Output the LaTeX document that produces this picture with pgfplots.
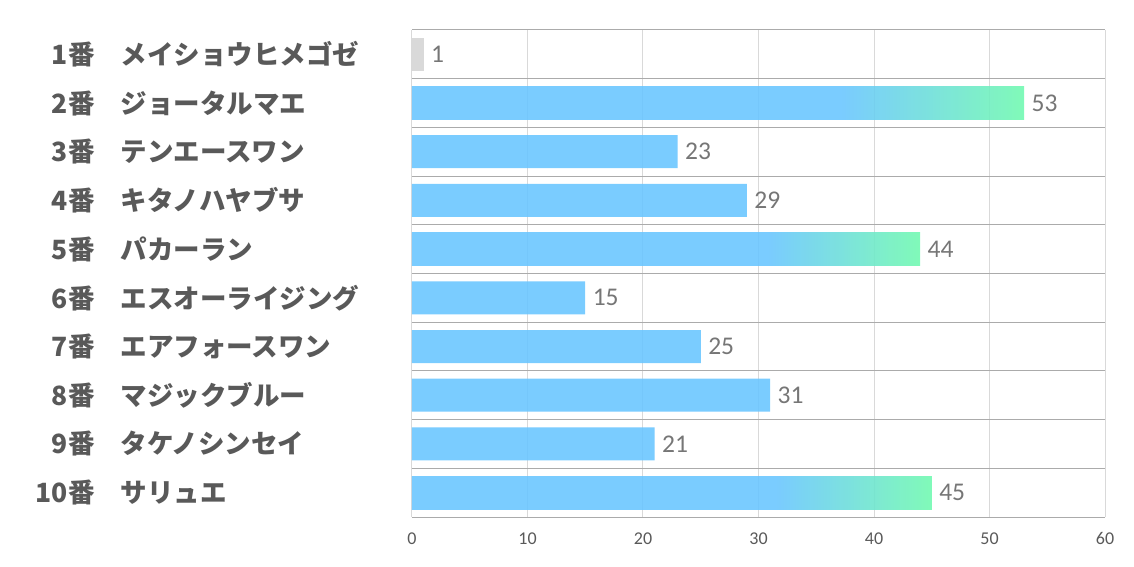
\documentclass[border=0pt]{standalone}
\usepackage{pgfplots}
\pgfplotsset{compat=1.18}
\usepackage{fontspec}
\setmainfont{Carlito}
\newfontfamily\jp{Noto Sans CJK JP}
\definecolor{barblue}{RGB}{107,198,255}
\definecolor{bargreen}{RGB}{114,249,177}
\definecolor{bargrey}{RGB}{213,213,213}
\definecolor{labgrey}{RGB}{89,89,89}
\definecolor{valgrey}{RGB}{118,118,118}
\definecolor{gridlight}{RGB}{217,217,217}
\definecolor{griddark}{RGB}{171,171,171}
\pgfdeclarehorizontalshading{bargrad}{100bp}{color(0bp)=(barblue); color(60bp)=(barblue); color(75bp)=(bargreen); color(100bp)=(bargreen)}
\newcommand{\lab}[2]{\makebox[60pt][r]{#1}\hspace{26pt}\makebox[262pt][l]{#2}}

\begin{document}
\begin{tikzpicture}
\path[use as bounding box] (-412pt,-50pt) rectangle (722pt,517pt);
\begin{axis}[
    at={(0pt,0pt)}, anchor=south west,
    scale only axis, width=693pt, height=487pt,
    xbar, bar width=33pt, bar shift=0pt,
    xmin=0, xmax=60, ymin=-0.5, ymax=9.5,
    xtick={0,10,...,60},
    ytick={0,...,9},
    yticklabels={
        \lab{10番}{サリュエ},
        \lab{9番}{タケノシンセイ},
        \lab{8番}{マジックブルー},
        \lab{7番}{エアフォースワン},
        \lab{6番}{エスオーライジング},
        \lab{5番}{パカーラン},
        \lab{4番}{キタノハヤブサ},
        \lab{3番}{テンエースワン},
        \lab{2番}{ジョータルマエ},
        \lab{1番}{メイショウヒメゴゼ}
    },
    minor ytick={-0.5,0.5,...,9.5},
    xmajorgrids, yminorgrids,
    major grid style={draw=gridlight, line width=1pt},
    minor grid style={draw=griddark, line width=1pt},
    axis line style={draw=none},
    tick style={draw=none},
    /pgf/number format/assume math mode=true,
    xticklabel style={font=\fontsize{18}{18}\selectfont, text=labgrey, yshift=-12pt},
    yticklabel style={font=\jp\bfseries\fontsize{26.5}{26.5}\selectfont, text=labgrey, anchor=east, inner sep=0pt, xshift=-25pt},
    nodes near coords,
    every node near coord/.append style={font=\fontsize{25.5}{25.5}\selectfont, text=valgrey, text opacity=1, fill opacity=1, xshift=4pt},
]
\addplot[fill=bargrey, draw=none, fill opacity=0.9] coordinates {(1,9)};
\addplot[fill=barblue, draw=none, fill opacity=0.9] coordinates {(23,7) (29,6) (15,4) (25,3) (31,2) (21,1)};
\addplot[shading=bargrad, draw=none, fill opacity=0.9] coordinates {(53,8)};
\addplot[shading=bargrad, draw=none, fill opacity=0.9] coordinates {(44,5)};
\addplot[shading=bargrad, draw=none, fill opacity=0.9] coordinates {(45,0)};
\end{axis}
\end{tikzpicture}
\end{document}
